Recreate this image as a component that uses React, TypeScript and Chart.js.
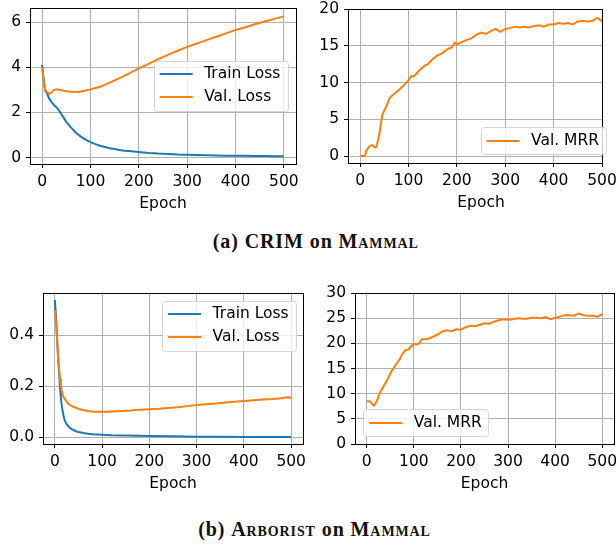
import React, { useEffect, useRef } from "react";
import { Chart, registerables } from "chart.js";

Chart.register(...registerables);

const FONT = '"DejaVu Sans", sans-serif';
const FS = 15.5;
const BLUE = "#1f77b4";
const ORANGE = "#ff7f0e";

// ---------- data ----------
const epochTicks = [0, 100, 200, 300, 400, 500];
const epochTickLabels = ["0", "100", "200", "300", "400", "500"];

// (a) CRIM on Mammal - losses
const crimLossEpochs = [0, 3, 6, 10, 15, 20, 25, 30, 35, 40, 45, 50, 55, 60, 70, 80, 90, 100, 110, 120, 130, 140, 150, 160, 170, 180, 190, 200, 220, 240, 260, 280, 300, 320, 340, 360, 380, 400, 420, 440, 460, 480, 500];
const crimTrainLoss = [4.1, 3.5, 3.0, 2.85, 2.6, 2.45, 2.32, 2.22, 2.08, 1.92, 1.75, 1.58, 1.45, 1.33, 1.1, 0.93, 0.8, 0.69, 0.6, 0.53, 0.47, 0.42, 0.38, 0.34, 0.31, 0.29, 0.27, 0.25, 0.21, 0.18, 0.16, 0.14, 0.13, 0.12, 0.11, 0.1, 0.09, 0.085, 0.08, 0.075, 0.07, 0.065, 0.06];
const crimValLoss = [4.0, 3.5, 3.0, 2.9, 2.82, 2.9, 3.0, 3.02, 3.0, 2.98, 2.96, 2.95, 2.93, 2.92, 2.9, 2.93, 2.97, 3.02, 3.08, 3.14, 3.22, 3.32, 3.42, 3.52, 3.62, 3.73, 3.84, 3.95, 4.15, 4.36, 4.55, 4.73, 4.9, 5.05, 5.2, 5.35, 5.5, 5.65, 5.77, 5.9, 6.02, 6.14, 6.25];
const crimLossTicks = [0, 2, 4, 6];
const crimLossTickLabels = ["0", "2", "4", "6"];

// (a) CRIM on Mammal - MRR
const crimMrrEpochs = [0, 5, 10, 13, 17, 20, 25, 30, 34, 37, 40, 42, 46, 50, 55, 61, 66, 72, 80, 86, 93, 100, 106, 110, 115, 120, 128, 134, 140, 150, 160, 170, 180, 190, 195, 200, 210, 220, 230, 240, 250, 260, 270, 280, 290, 300, 310, 320, 330, 340, 350, 360, 370, 380, 390, 400, 410, 420, 430, 440, 450, 460, 470, 480, 490, 495, 500];
const crimValMrr = [0, 0, 0, 0.8, 1.1, 1.4, 1.5, 1.2, 1.3, 2.2, 3.0, 4.0, 5.6, 6.2, 6.9, 7.9, 8.2, 8.55, 9.0, 9.35, 9.8, 10.3, 10.9, 10.8, 11.1, 11.5, 12.0, 12.3, 12.5, 13.2, 13.7, 14.0, 14.5, 14.8, 15.4, 15.2, 15.5, 15.8, 16.0, 16.5, 16.8, 16.6, 17.0, 17.3, 16.9, 17.3, 17.4, 17.6, 17.5, 17.6, 17.5, 17.7, 17.8, 17.6, 17.9, 17.9, 18.1, 18.0, 18.1, 17.9, 18.3, 18.4, 18.3, 18.4, 18.8, 18.6, 18.3];
const crimMrrTicks = [0, 5, 10, 15, 20];
const crimMrrTickLabels = ["0", "5", "10", "15", "20"];

// (b) Arborist on Mammal - losses
const arbTrainEpochs = [0, 3, 5, 7, 9, 11, 13, 15, 18, 20, 23, 26, 30, 34, 40, 45, 50, 60, 70, 80, 100, 120, 150, 200, 250, 300, 350, 400, 450, 500];
const arbTrainLoss = [0.54, 0.46, 0.38, 0.31, 0.25, 0.195, 0.15, 0.12, 0.088, 0.072, 0.058, 0.048, 0.04, 0.033, 0.027, 0.023, 0.02, 0.016, 0.013, 0.011, 0.009, 0.007, 0.006, 0.004, 0.003, 0.002, 0.002, 0.001, 0.001, 0.001];
const arbValEpochs = [0, 3, 5, 7, 9, 11, 13, 15, 18, 20, 24, 27, 32, 37, 44, 51, 60, 70, 80, 90, 100, 110, 120, 140, 160, 180, 200, 220, 240, 260, 280, 300, 320, 340, 360, 380, 400, 420, 440, 460, 480, 490, 500];
const arbValLoss = [0.5, 0.44, 0.38, 0.32, 0.27, 0.23, 0.2, 0.18, 0.16, 0.153, 0.142, 0.134, 0.127, 0.121, 0.116, 0.111, 0.107, 0.103, 0.1, 0.1, 0.1, 0.1, 0.101, 0.103, 0.105, 0.108, 0.11, 0.112, 0.115, 0.118, 0.122, 0.126, 0.129, 0.132, 0.136, 0.139, 0.142, 0.145, 0.148, 0.15, 0.153, 0.157, 0.155];
const arbLossTicks = [0, 0.2, 0.4];
const arbLossTickLabels = ["0.0", "0.2", "0.4"];

// (b) Arborist on Mammal - MRR
const arbMrrEpochs = [0, 5, 8, 12, 15, 18, 22, 25, 29, 34, 39, 45, 50, 55, 61, 66, 71, 76, 82, 89, 94, 100, 105, 110, 117, 125, 130, 138, 145, 152, 159, 165, 170, 180, 190, 200, 210, 220, 230, 240, 250, 260, 270, 280, 290, 300, 310, 320, 330, 340, 350, 360, 370, 380, 390, 400, 410, 420, 430, 440, 450, 460, 470, 480, 490, 500];
const arbValMrr = [8.5, 8.5, 8.4, 7.9, 7.6, 8.0, 8.7, 9.5, 10.4, 11.2, 12.0, 13.0, 14.0, 14.8, 15.7, 16.3, 17.0, 17.9, 18.65, 18.8, 19.4, 19.8, 19.8, 19.9, 20.8, 20.8, 20.9, 21.2, 21.5, 21.8, 22.3, 22.5, 22.6, 22.4, 22.8, 22.7, 23.2, 23.5, 23.4, 23.7, 24.0, 23.9, 24.3, 24.6, 24.8, 24.7, 24.8, 25.0, 24.9, 24.9, 25.1, 25.1, 25.0, 25.2, 24.8, 25.1, 25.3, 25.6, 25.6, 25.5, 25.9, 25.6, 25.5, 25.5, 25.3, 25.8];
const arbMrrTicks = [0, 5, 10, 15, 20, 25, 30];
const arbMrrTickLabels = ["0", "5", "10", "15", "20", "25", "30"];

const xTitle = "Epoch";
const trainLabel = "Train Loss";
const valLossLabel = "Val. Loss";
const valMrrLabel = "Val. MRR";

// ---------- drawing helpers ----------
const alignPx = (v: number) => Math.round(v - 0.5) + 0.5;

const decor = {
  id: "mplDecor",
  afterDraw(chart: any, _args: any, o: any) {
    const { ctx, chartArea: a } = chart;
    ctx.save();
    const l = alignPx(a.left), r = alignPx(a.right), t = alignPx(a.top), b = alignPx(a.bottom);
    ctx.strokeStyle = "#000";
    ctx.lineWidth = 1;
    ctx.strokeRect(l, t, r - l, b - t);

    ctx.fillStyle = "#000";
    ctx.font = `${FS}px ${FONT}`;
    ctx.textAlign = "center";
    ctx.textBaseline = "middle";
    ctx.fillText(o.title, (a.left + a.right) / 2 + (o.titleDx || 0), a.bottom + o.titleDy);

    const ds = chart.data.datasets;
    const tw = Math.max(...ds.map((d: any) => ctx.measureText(d.label).width));
    const w = o.legTextOff + tw + o.legPadR;
    const h = o.legRow0 * 2 + (ds.length - 1) * o.legRowGap;
    const x = o.legRight !== undefined ? o.legRight - w : o.legLeft;
    const y = o.legTop;
    ctx.beginPath();
    (ctx as any).roundRect(Math.round(x) + 0.5, Math.round(y) + 0.5, Math.round(w), Math.round(h), 3);
    ctx.fillStyle = "rgba(255,255,255,0.8)";
    ctx.fill();
    ctx.strokeStyle = "rgba(204,204,204,0.8)";
    ctx.lineWidth = 1;
    ctx.stroke();
    ds.forEach((d: any, i: number) => {
      const ry = Math.round(y + o.legRow0 + i * o.legRowGap);
      ctx.beginPath();
      ctx.strokeStyle = d.borderColor;
      ctx.lineWidth = 2;
      ctx.moveTo(x + o.legHandleOff, ry);
      ctx.lineTo(x + o.legHandleOff + o.legHandleLen, ry);
      ctx.stroke();
      ctx.fillStyle = "#000";
      ctx.textAlign = "left";
      ctx.textBaseline = "middle";
      ctx.fillText(d.label, x + o.legTextOff, ry);
    });
    ctx.restore();
  },
};

function axisCfg(min: number, max: number, ticks: number[], labels: string[], size: number, isX: boolean) {
  return {
    type: "linear",
    position: isX ? "bottom" : "left",
    min,
    max,
    bounds: "data",
    afterBuildTicks: (ax: any) => {
      ax.ticks = ticks.map((v) => ({ value: v }));
    },
    afterFit: (ax: any) => {
      if (isX) ax.height = size;
      else ax.width = size;
      ax.paddingLeft = 0;
      ax.paddingRight = 0;
      ax.paddingTop = 0;
      ax.paddingBottom = 0;
    },
    ticks: {
      autoSkip: false,
      maxRotation: 0,
      minRotation: 0,
      padding: isX ? 4.4 : 5,
      color: "#000",
      font: { family: FONT, size: FS },
      callback: (_v: any, i: number) => labels[i],
    },
    grid: {
      color: "#b0b0b0",
      lineWidth: 1,
      drawTicks: true,
      tickLength: 4,
      tickColor: "#000",
      tickWidth: 1,
      drawOnChartArea: true,
    },
    border: { display: false },
  };
}

type Series = { label: string; x: number[]; y: number[]; color: string; order: number };
type PanelCfg = {
  left: number; top: number; w: number; h: number;
  padTop: number; padRight: number; yAxisW: number; xAxisH: number;
  xMin: number; xMax: number; yMin: number; yMax: number;
  yTicks: number[]; yTickLabels: string[];
  series: Series[];
  legend: any;
  titleDx: number;
};

function Panel({ cfg }: { cfg: PanelCfg }) {
  const ref = useRef<HTMLCanvasElement>(null);
  useEffect(() => {
    const chart = new Chart(ref.current as HTMLCanvasElement, {
      type: "line",
      data: {
        datasets: cfg.series.map((s) => ({
          label: s.label,
          data: s.x.map((x, i) => ({ x, y: s.y[i] })),
          borderColor: s.color,
          backgroundColor: s.color,
          borderWidth: 2,
          pointRadius: 0,
          tension: 0,
          fill: false,
          order: s.order,
        })),
      },
      options: {
        responsive: false,
        animation: false,
        devicePixelRatio: 1,
        events: [],
        layout: { padding: { left: 0, top: cfg.padTop, right: cfg.padRight, bottom: 0 }, autoPadding: false },
        plugins: {
          legend: { display: false },
          tooltip: { enabled: false },
          mplDecor: {
            title: xTitle,
            titleDx: cfg.titleDx,
            titleDy: 40,
            legRow0: 13.3,
            legRowGap: 23.3,
            legHandleOff: 6,
            legHandleLen: 33,
            legTextOff: 50.5,
            legPadR: 7,
            ...cfg.legend,
          },
        },
        scales: {
          x: axisCfg(cfg.xMin, cfg.xMax, epochTicks, epochTickLabels, cfg.xAxisH, true),
          y: axisCfg(cfg.yMin, cfg.yMax, cfg.yTicks, cfg.yTickLabels, cfg.yAxisW, false),
        },
      } as any,
      plugins: [decor as any],
    });
    return () => chart.destroy();
  }, []);
  return (
    <canvas
      ref={ref}
      width={cfg.w}
      height={cfg.h}
      style={{ position: "absolute", left: cfg.left, top: cfg.top, width: cfg.w, height: cfg.h }}
    />
  );
}

const panels: PanelCfg[] = [
  {
    left: 0, top: 0, w: 306, h: 215, padTop: 8, padRight: 10, yAxisW: 30, xAxisH: 51,
    xMin: -25, xMax: 525, yMin: -0.28, yMax: 6.62,
    yTicks: crimLossTicks, yTickLabels: crimLossTickLabels,
    series: [
      { label: trainLabel, x: crimLossEpochs, y: crimTrainLoss, color: BLUE, order: 1 },
      { label: valLossLabel, x: crimLossEpochs, y: crimValLoss, color: ORANGE, order: 0 },
    ],
    legend: { legRight: 287.3, legTop: 60.7 },
    titleDx: 0,
  },
  {
    left: 306, top: 0, w: 310, h: 215, padTop: 9, padRight: 14, yAxisW: 42, xAxisH: 52,
    xMin: -25, xMax: 500, yMin: -0.94, yMax: 20,
    yTicks: crimMrrTicks, yTickLabels: crimMrrTickLabels,
    series: [{ label: valMrrLabel, x: crimMrrEpochs, y: crimValMrr, color: ORANGE, order: 0 }],
    legend: { legRight: 300, legTop: 127.3 },
    titleDx: 6,
  },
  {
    left: 0, top: 270, w: 306, h: 225, padTop: 23, padRight: 3, yAxisW: 43, xAxisH: 51,
    xMin: -25, xMax: 525, yMin: -0.027, yMax: 0.567,
    yTicks: arbLossTicks, yTickLabels: arbLossTickLabels,
    series: [
      { label: trainLabel, x: arbTrainEpochs, y: arbTrainLoss, color: BLUE, order: 1 },
      { label: valLossLabel, x: arbValEpochs, y: arbValLoss, color: ORANGE, order: 0 },
    ],
    legend: { legRight: 295.7, legTop: 30.7 },
    titleDx: 0,
  },
  {
    left: 306, top: 270, w: 310, h: 225, padTop: 23, padRight: 2, yAxisW: 49, xAxisH: 51,
    xMin: -25, xMax: 525, yMin: 0, yMax: 30,
    yTicks: arbMrrTicks, yTickLabels: arbMrrTickLabels,
    series: [{ label: valMrrLabel, x: arbMrrEpochs, y: arbValMrr, color: ORANGE, order: 0 }],
    legend: { legLeft: 57.3, legTop: 139.3 },
    titleDx: 0,
  },
];

const capStyle: React.CSSProperties = {
  position: "absolute",
  width: 400,
  height: 24,
  lineHeight: "24px",
  textAlign: "center",
  fontFamily: '"Liberation Serif", serif',
  fontWeight: "bold",
  fontSize: 20,
  letterSpacing: 0.9,
  color: "#111",
  whiteSpace: "nowrap",
};
const sc: React.CSSProperties = { fontVariant: "small-caps" };

export default function App() {
  return (
    <div style={{ position: "absolute", left: 0, top: 0, width: 616, height: 545, background: "#fff", overflow: "hidden" }}>
      {panels.map((p, i) => (
        <Panel key={i} cfg={p} />
      ))}
      <div style={{ ...capStyle, left: 115.8, top: 228.7 }}>
        (a) CRIM on <span style={sc}>Mammal</span>
      </div>
      <div style={{ ...capStyle, left: 114.5, top: 517.3 }}>
        (b) <span style={sc}>Arborist</span> on <span style={sc}>Mammal</span>
      </div>
    </div>
  );
}
